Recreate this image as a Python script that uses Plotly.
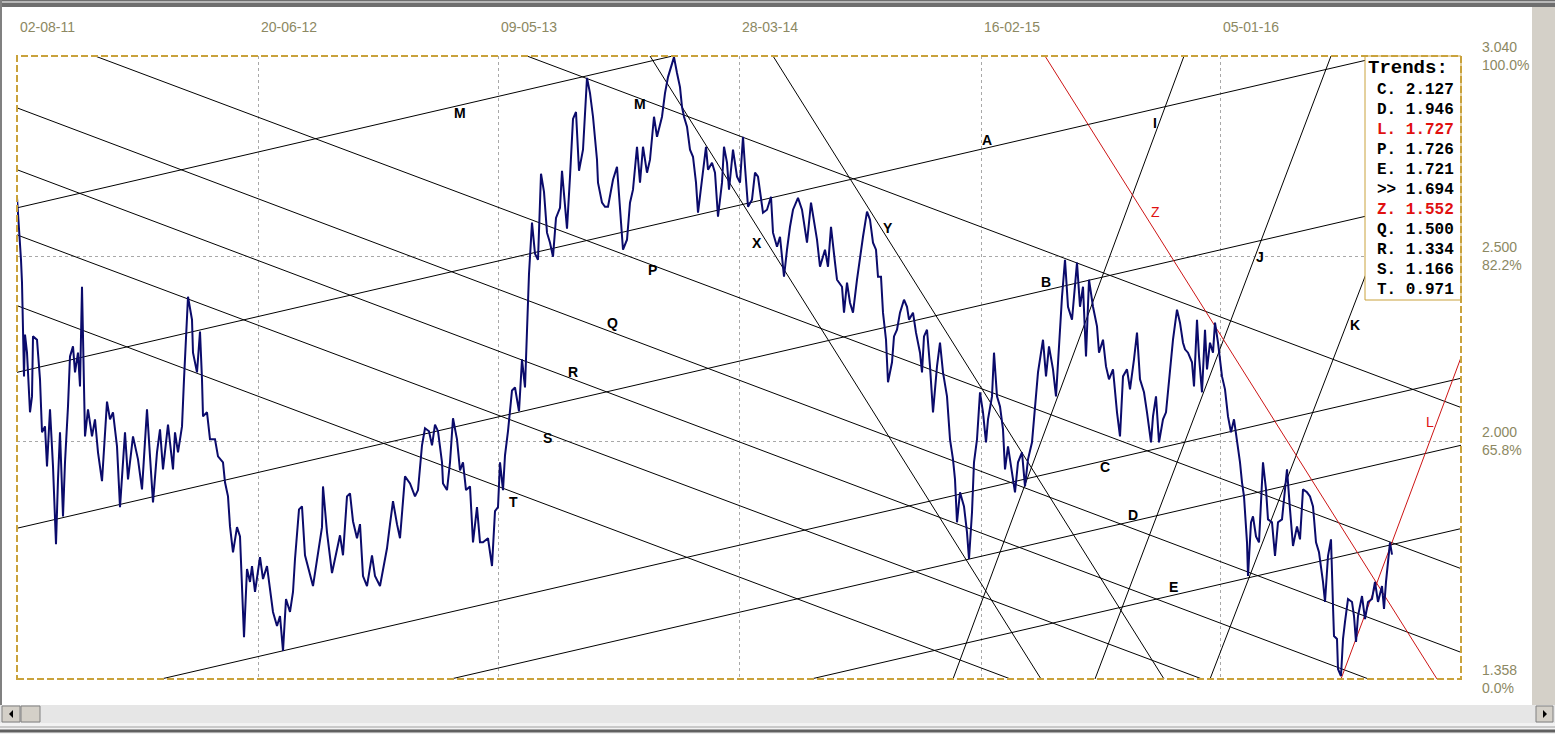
import plotly.graph_objects as go

# ---- price series (bar index, close) ----
bars = [0, 2, 4, 5, 6, 7, 8, 10, 11, 13, 15, 16, 20, 23, 25, 28, 30, 33, 36, 39, 41, 43, 46, 48, 51, 53, 56, 58, 61, 63,
        65, 67, 68, 71, 75, 78, 81, 85, 88, 90, 93, 96, 100, 103, 108, 111, 116, 121, 125, 130, 133, 136, 140, 143, 146,
        151, 156, 158, 161, 165, 167, 169, 171, 175, 176, 180, 183, 185, 186, 190, 193, 198, 201, 206, 208, 211, 213, 216,
        220, 223, 225, 227, 230, 233, 235, 238, 243, 246, 250, 253, 256, 260, 263, 266, 269, 273, 276, 278, 282,
        285, 288, 296, 305, 306, 310, 315, 323, 326, 330, 333, 336, 340, 343, 346, 350, 355, 358, 363, 370, 373, 376, 380,
        383, 388, 393, 398, 401, 405, 408, 412, 415, 418, 421, 425, 426, 430, 433, 436, 440, 443, 446, 449, 453, 456, 460,
        463, 466, 471, 473, 475, 478, 481, 483, 486, 488, 491, 495, 498, 502, 505, 508, 510, 512, 515, 518, 521, 524, 527,
        530, 533, 536, 539, 543, 545, 548, 550, 553, 556, 559, 562, 566, 568, 570,
        573, 576, 580, 581, 585, 588, 591, 596, 600, 603, 606, 610, 613, 616, 620, 623, 626, 630, 633, 637, 640, 645, 648,
        651, 654, 657, 660, 663, 665, 667, 670, 673, 676, 679, 681, 685, 689, 691, 695, 698, 701, 705, 707, 710, 712, 716,
        720, 723, 726, 728, 731, 735, 738, 741, 743, 746, 750, 754, 756, 760, 763, 767, 770, 773, 776, 781, 785, 787, 790,
        794, 798, 800, 803, 808, 811, 814, 818, 820, 825, 827, 830, 833, 836, 840, 846, 850, 853, 856, 859, 861,
        864, 866, 869, 871, 875, 877, 880, 883, 887, 890, 892, 896, 899, 903, 905, 907, 910, 913, 916, 920, 923, 926, 930,
        933, 936, 938, 940, 943, 947, 950, 952, 955, 957, 960, 963, 966, 969, 971, 975, 977, 980, 983, 986, 988, 991, 995,
        998, 1001, 1005, 1008, 1011, 1015, 1018, 1021, 1026, 1029, 1032, 1036, 1039, 1042, 1045, 1048, 1051, 1055, 1058,
        1060, 1063, 1066, 1069, 1072, 1076, 1080, 1082, 1086, 1089, 1092, 1096, 1100, 1103, 1106, 1110, 1113, 1117, 1120,
        1123, 1127, 1130, 1134, 1136, 1139, 1142, 1146, 1149, 1152, 1156, 1160, 1163, 1166,
        1168, 1171, 1175, 1177, 1180, 1182, 1185, 1188, 1190, 1193, 1196, 1198, 1201, 1205, 1208, 1211, 1214, 1217, 1220,
        1223, 1225, 1227, 1230, 1231, 1234, 1236, 1239, 1242, 1246, 1249, 1251, 1255, 1258, 1261, 1265, 1268, 1270, 1273,
        1276, 1280, 1283, 1286, 1290, 1293, 1296, 1299, 1302, 1306, 1308, 1311, 1314, 1316, 1317, 1320, 1321, 1324, 1326,
        1328, 1331, 1335, 1337, 1339, 1341, 1345, 1348, 1351, 1355, 1358, 1361, 1365, 1367, 1369, 1371, 1373, 1375]

closes = [2.657, 2.579, 2.490, 2.428, 2.283, 2.175, 2.288, 2.239, 2.186, 2.078, 2.121, 2.283, 2.274, 2.167, 2.024, 2.040,
          1.932, 2.086, 1.932, 1.722, 1.897, 2.024, 1.797, 1.943, 2.094, 2.229, 2.256, 2.186, 2.239, 2.148,
          2.417, 2.121, 2.013, 2.086, 2.013, 2.059, 1.970, 1.892, 2.024, 2.107, 2.059, 2.078, 1.986, 1.822, 2.024, 1.897,
          2.013, 1.951, 1.870, 2.086, 1.959, 1.835, 1.970, 2.032, 1.924, 2.045, 1.924, 2.024, 1.970, 2.040, 2.167, 2.293,
          2.390, 2.328, 2.239, 2.186, 2.296, 2.167, 2.067, 2.078, 2.005, 2.005, 1.959, 1.943, 1.889, 1.851, 1.770, 1.700,
          1.768, 1.743, 1.628, 1.471, 1.655, 1.620, 1.663, 1.593, 1.687, 1.628, 1.663, 1.601, 1.539, 1.501, 1.528, 1.434,
          1.574, 1.539, 1.593, 1.682, 1.816,
          1.824, 1.692, 1.609, 1.768, 1.878, 1.754, 1.644, 1.746, 1.692, 1.851, 1.859, 1.784, 1.738, 1.776, 1.636, 1.609,
          1.692, 1.636, 1.609, 1.711, 1.776, 1.838, 1.776, 1.738, 1.905, 1.886, 1.851, 1.868, 1.989, 2.035, 2.027, 1.989,
          2.045, 2.027, 1.943, 1.886, 1.868, 1.943, 2.062, 2.005, 1.921, 1.943, 1.868, 1.878, 1.727, 1.822, 1.727, 1.727,
          1.738, 1.692, 1.663, 1.811, 1.822, 1.943, 1.868, 1.962, 2.027, 2.137, 2.145, 2.081, 2.221, 2.145, 2.296, 2.452,
          2.590, 2.506, 2.490, 2.722, 2.673, 2.563, 2.536, 2.498, 2.603, 2.630, 2.730, 2.646, 2.574, 2.714, 2.870, 2.889,
          2.730, 2.787, 2.870, 2.981,
          2.940, 2.876, 2.760, 2.698, 2.644, 2.633, 2.633, 2.706, 2.741, 2.625, 2.517, 2.544, 2.644, 2.679, 2.795, 2.698,
          2.795, 2.725, 2.760, 2.876, 2.822, 2.876, 2.940, 2.983, 3.010, 3.037, 2.994, 2.956, 2.903, 2.876, 2.849, 2.787,
          2.768, 2.698, 2.617, 2.714, 2.795, 2.733, 2.752, 2.725, 2.606, 2.698, 2.795, 2.752, 2.679, 2.787, 2.714, 2.698,
          2.822, 2.741, 2.633, 2.652, 2.725, 2.714, 2.679, 2.617, 2.625, 2.660, 2.563, 2.525, 2.552, 2.444, 2.517, 2.579,
          2.625, 2.657, 2.625, 2.590, 2.536, 2.644, 2.579, 2.544, 2.471, 2.517, 2.471, 2.579, 2.482, 2.436, 2.417, 2.347,
          2.428, 2.374, 2.347, 2.436, 2.552, 2.620, 2.598, 2.536, 2.517, 2.444,
          2.444, 2.347, 2.274, 2.159, 2.213, 2.283, 2.301, 2.347, 2.382, 2.363, 2.328, 2.347, 2.293, 2.239, 2.186, 2.283,
          2.301, 2.202, 2.078, 2.202, 2.266, 2.186, 2.121, 2.005, 1.951, 1.897, 1.781, 1.862, 1.824, 1.754, 1.682, 1.808,
          1.943, 2.005, 2.132, 2.078, 1.997, 2.059, 2.121, 2.239, 2.121, 2.094, 2.032, 1.924, 1.986, 1.916, 1.862, 1.943,
          1.970, 1.878, 1.951, 1.997, 2.094, 2.186, 2.274, 2.175, 2.256, 2.194, 2.121, 2.274, 2.390, 2.490, 2.363, 2.328,
          2.409, 2.482, 2.363, 2.417, 2.229, 2.436, 2.363, 2.310, 2.239, 2.274, 2.202, 2.167, 2.194, 2.078, 2.013, 2.175,
          2.194, 2.140, 2.221, 2.293, 2.167, 2.132, 2.078, 1.997, 2.067, 2.121, 1.997, 2.059, 2.078, 2.167, 2.274, 2.355,
          2.320, 2.266,
          2.248, 2.239, 2.213, 2.148, 2.328, 2.229, 2.132, 2.301, 2.194, 2.266, 2.239, 2.320, 2.266, 2.175, 2.140, 2.067,
          2.024, 2.059, 2.005, 1.943, 1.889, 1.851, 1.727, 1.636, 1.781, 1.797, 1.743, 1.727, 1.943, 1.870, 1.789, 1.781,
          1.690, 1.781, 1.789, 1.870, 1.924, 1.816, 1.717, 1.770, 1.735, 1.870, 1.862, 1.851, 1.824, 1.727, 1.700, 1.620,
          1.566, 1.690, 1.735, 1.555, 1.474, 1.466, 1.385, 1.366, 1.466, 1.512, 1.574, 1.566, 1.528, 1.458, 1.528, 1.582,
          1.520, 1.566, 1.574, 1.620, 1.566, 1.609, 1.547, 1.620, 1.682, 1.727, 1.694]

# ---- trend lines: two anchor points each (bar, price) ----
trend_names = ["P", "Q", "R", "S", "T", "M2", "M", "A", "B", "C", "D", "E", "X", "Y", "I", "J", "K", "Z", "L"]
trend_x0 = [78, 0, 0, 0, 0, 510, 0, 0, 0, 0, 0, 0, 633, 756, 1167, 1314, 1193, 1028, 1324]
trend_y0 = [3.040, 2.900, 2.733, 2.557, 2.366, 3.040, 2.630, 2.186, 1.765, 1.268, 1.087, 0.862,
            3.040, 3.040, 3.040, 3.040, 1.358, 3.040, 1.358]
trend_x1 = [1444, 1444, 1444, 1444, 1444, 1444, 1444, 1444, 1444, 1444, 1444, 1444, 1024, 1147, 936, 1078, 1433, 1420, 1444]
trend_y1 = [1.656, 1.430, 1.264, 1.096, 0.901, 2.091, 3.533, 3.088, 2.667, 2.170, 1.989, 1.764,
            1.358, 1.358, 1.358, 1.358, 3.040, 1.358, 2.226]
red_trends = {"Z", "L"}

# labels placed next to the lines (bar, price)
label_text = ["M", "M", "A", "I", "X", "Y", "P", "B", "J", "Q", "K", "R", "L", "S", "C", "T", "D", "E", "Z"]
label_x = [443, 623, 970, 1138, 740, 871, 635, 1029, 1243, 595, 1338, 556, 1413, 530, 1088, 496, 1116, 1156, 1138]
label_y = [2.886, 2.911, 2.814, 2.859, 2.536, 2.576, 2.463, 2.431, 2.496, 2.318, 2.315, 2.188, 2.053, 2.010,
           1.930, 1.835, 1.800, 1.606, 2.620]

# trend table
table_keys = ["C.", "D.", "L.", "P.", "E.", "&gt;&gt;", "Z.", "Q.", "R.", "S.", "T."]
table_vals = ["2.127", "1.946", "1.727", "1.726", "1.721", "1.694", "1.552", "1.500", "1.334", "1.166", "0.971"]
table_red = [False, False, True, False, False, False, True, False, False, False, False]

# axes
tick_bars = [0, 241, 481, 722, 964, 1203]
tick_dates = ["02-08-11", "20-06-12", "09-05-13", "28-03-14", "16-02-15", "05-01-16"]
price_levels = [3.040, 2.500, 2.000, 1.358]
pct_levels = ["100.0%", "82.2%", "65.8%", "0.0%"]

W, H = 1555, 734
L_, T_, R_, B_ = 17, 56, 1461, 679
AXIS_COL = "#8C8862"
GOLD = "#C9A23C"


def px(x):
    return (x - L_) / (R_ - L_)


def py(y):
    return (B_ - y) / (B_ - T_)


fig = go.Figure()

for i, name in enumerate(trend_names):
    col = "#CC1515" if name in red_trends else "black"
    fig.add_trace(go.Scatter(
        x=[trend_x0[i], trend_x1[i]], y=[trend_y0[i], trend_y1[i]],
        mode="lines", line=dict(color=col, width=1), showlegend=False, hoverinfo="skip"))

fig.add_trace(go.Scatter(x=bars, y=closes, mode="lines", line=dict(color="#0B0B6B", width=2),
                         name="Close", showlegend=False))

annotations = []
for t, x, y in zip(label_text, label_x, label_y):
    red = t in red_trends
    annotations.append(dict(
        x=x, y=y, xref="x", yref="y", text=t if red else f"<b>{t}</b>", showarrow=False,
        font=dict(family="Liberation Sans, Arial", size=14, color="#E01010" if red else "black")))

for b, d in zip(tick_bars, tick_dates):
    annotations.append(dict(x=b, y=py(27), xref="x", yref="paper", text=d, showarrow=False,
                            xanchor="left", xshift=1, yanchor="middle",
                            font=dict(family="Liberation Sans, Arial", size=14, color=AXIS_COL)))

for v, p in zip(price_levels, pct_levels):
    annotations.append(dict(x=px(1480), y=v, xref="paper", yref="y", text=f"{v:.3f}<br>{p}",
                            showarrow=False, xanchor="left", yanchor="middle", align="left",
                            font=dict(family="Liberation Sans, Arial", size=14, color=AXIS_COL)))

annotations.append(dict(x=px(1366), y=py(68), xref="paper", yref="paper", text="<b>Trends:</b>",
                        showarrow=False, xanchor="left", yanchor="middle",
                        font=dict(family="Liberation Mono, Courier New", size=19, color="black")))
for i, (k, v) in enumerate(zip(table_keys, table_vals)):
    annotations.append(dict(x=px(1375), y=py(90 + 20 * i), xref="paper", yref="paper",
                            text=f"<b>{k} {v}</b>", showarrow=False, xanchor="left", yanchor="middle",
                            font=dict(family="Liberation Mono, Courier New", size=16,
                                      color="#E01010" if table_red[i] else "black")))

shapes = [
    # trends box
    dict(type="rect", xref="paper", yref="paper", x0=px(1365), x1=px(1461), y0=py(300), y1=py(56),
         fillcolor="white", line=dict(color=GOLD, width=1), layer="above"),
    # dashed plot frame
    dict(type="rect", xref="paper", yref="paper", x0=0, x1=1, y0=0, y1=1,
         line=dict(color=GOLD, width=2, dash="7px,3px"), layer="above"),
    # window chrome
    dict(type="rect", xref="paper", yref="paper", x0=px(1532), x1=px(1556), y0=py(705), y1=py(0),
         fillcolor="#D4D0C8", line=dict(width=0)),
    dict(type="rect", xref="paper", yref="paper", x0=px(-1), x1=px(1556), y0=py(7), y1=py(-1),
         fillcolor="#6E6E6E", line=dict(width=0)),
    dict(type="line", xref="paper", yref="paper", x0=px(0), x1=px(1556), y0=py(2), y1=py(2),
         line=dict(color="#B8B8B8", width=2)),
    dict(type="line", xref="paper", yref="paper", x0=px(1), x1=px(1), y0=py(705), y1=py(0),
         line=dict(color="#808080", width=2)),
    dict(type="rect", xref="paper", yref="paper", x0=px(-1), x1=px(1556), y0=py(723), y1=py(705),
         fillcolor="#E6E6E6", line=dict(width=0)),
    dict(type="rect", xref="paper", yref="paper", x0=px(2), x1=px(20), y0=py(722), y1=py(706),
         fillcolor="#D4D0C8", line=dict(color="#808080", width=1)),
    dict(type="rect", xref="paper", yref="paper", x0=px(21), x1=px(40), y0=py(722), y1=py(706),
         fillcolor="#D4D0C8", line=dict(color="#808080", width=1)),
    dict(type="rect", xref="paper", yref="paper", x0=px(1536), x1=px(1553), y0=py(722), y1=py(706),
         fillcolor="#D4D0C8", line=dict(color="#808080", width=1)),
    dict(type="path", xref="paper", yref="paper",
         path=f"M {px(13)} {py(710)} L {px(9)} {py(714)} L {px(13)} {py(718)} Z",
         fillcolor="black", line=dict(width=0)),
    dict(type="path", xref="paper", yref="paper",
         path=f"M {px(1543)} {py(710)} L {px(1547)} {py(714)} L {px(1543)} {py(718)} Z",
         fillcolor="black", line=dict(width=0)),
    dict(type="rect", xref="paper", yref="paper", x0=px(-1), x1=px(1556), y0=py(735), y1=py(723),
         fillcolor="#F2F2F2", line=dict(width=0)),
    dict(type="line", xref="paper", yref="paper", x0=px(0), x1=px(1556), y0=py(727), y1=py(727),
         line=dict(color="#A0A0A0", width=1)),
    dict(type="line", xref="paper", yref="paper", x0=px(0), x1=px(1556), y0=py(731), y1=py(731),
         line=dict(color="#606060", width=3)),
]

fig.update_layout(
    width=W, height=H,
    margin=dict(l=L_, r=W - R_, t=T_, b=H - B_, pad=0),
    paper_bgcolor="white", plot_bgcolor="white",
    showlegend=False,
    annotations=annotations,
    shapes=shapes,
    xaxis=dict(range=[0, R_ - L_], tickvals=tick_bars[1:], showticklabels=False, ticks="",
               showgrid=True, gridcolor="#A8A8A8", griddash="dot", gridwidth=1,
               zeroline=False, showline=False, fixedrange=True),
    yaxis=dict(range=[1.358, 3.040], tickvals=[2.0, 2.5], showticklabels=False, ticks="",
               showgrid=True, gridcolor="#A8A8A8", griddash="dot", gridwidth=1,
               zeroline=False, showline=False, fixedrange=True),
)

# the page body has a default 8px margin; drop it so the figure sits at the window origin
fig.write_html("out.html", config={"displayModeBar": False},
               post_script="document.body.style.margin='0';document.body.style.overflow='hidden';")
